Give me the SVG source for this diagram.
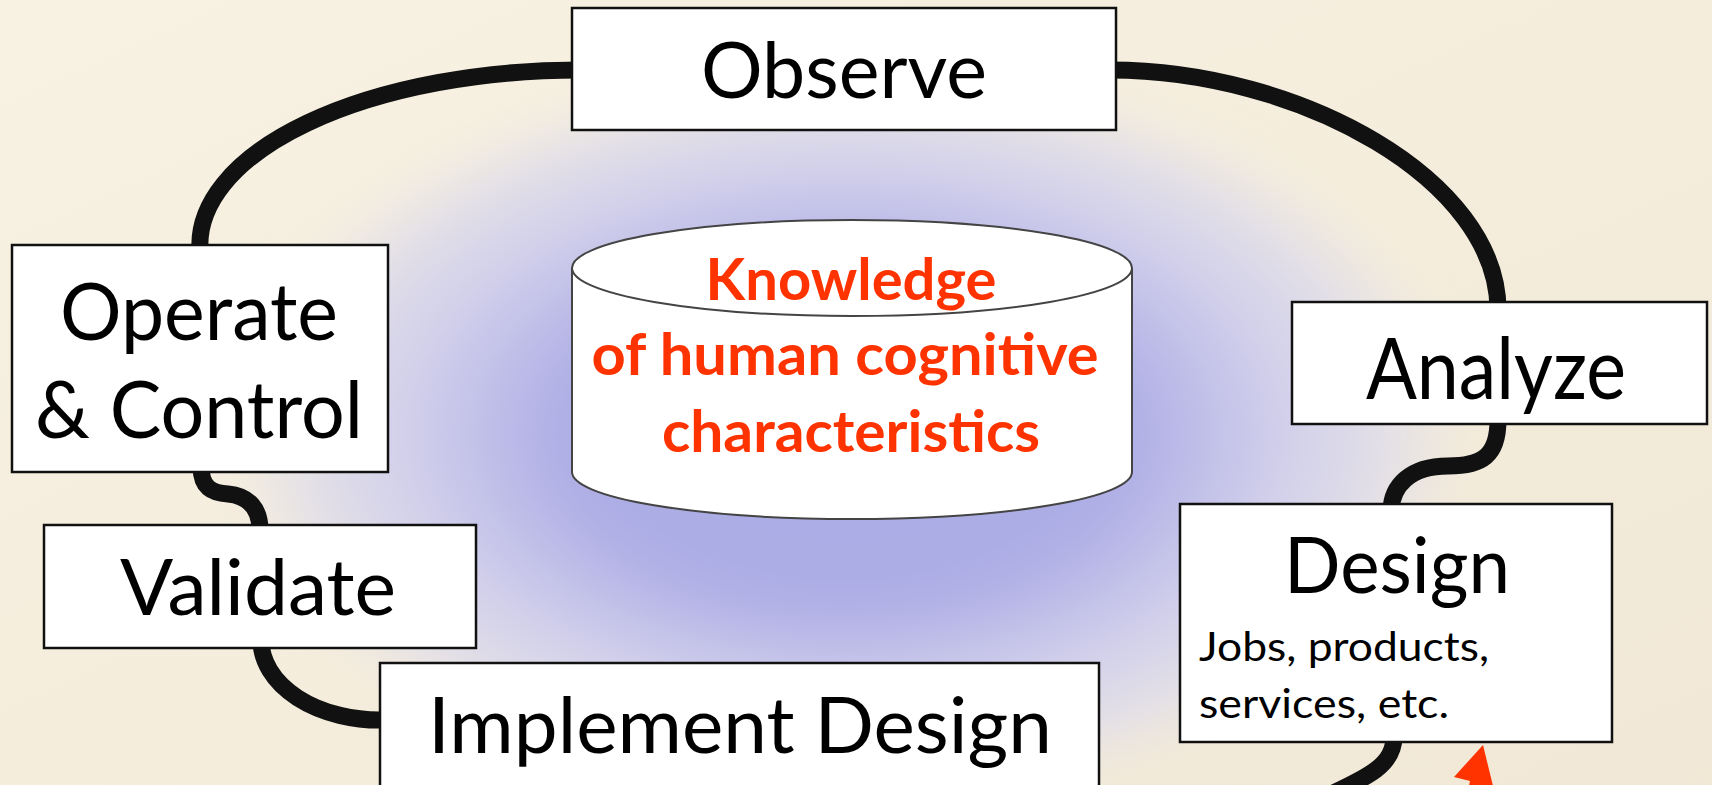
<svg xmlns="http://www.w3.org/2000/svg" width="1712" height="785" viewBox="0 0 1712 785">
  <defs>
    <linearGradient id="paper" x1="0" y1="0" x2="1" y2="1">
      <stop offset="0" stop-color="#F8F2E3"/>
      <stop offset="1" stop-color="#F1E8D6"/>
    </linearGradient>
    <radialGradient id="glow" cx="0.5" cy="0.5" r="0.5">
      <stop offset="0" stop-color="#A9A9E6"/>
      <stop offset="0.45" stop-color="#AEAEE6"/>
      <stop offset="0.68" stop-color="#CFCDEA"/>
      <stop offset="0.85" stop-color="#E1DEE8"/>
      <stop offset="1" stop-color="#E6E2E6" stop-opacity="0"/>
    </radialGradient>
    <filter id="soft" x="-20%" y="-20%" width="140%" height="140%">
      <feGaussianBlur stdDeviation="18"/>
    </filter>
  </defs>
  <style>
    .box { fill: #FFFFFF; stroke: #111111; stroke-width: 2.5; }
    .link { fill: none; stroke: #111111; stroke-width: 17; }
    .label { font-family: Lato, "Liberation Sans", sans-serif; font-size: 78px; fill: #000000; text-anchor: middle; }
    .big { font-size: 86px; }
    .mid { font-size: 80px; }
    .note { font-family: Lato, "Liberation Sans", sans-serif; font-size: 41px; fill: #000000; }
    .store { fill: #FFFFFF; stroke: #444444; stroke-width: 2; }
    .hot { font-family: Lato, "Liberation Sans", sans-serif; font-weight: bold; font-size: 57px; fill: #FF3300; text-anchor: middle; }
  </style>

  <!-- paper background and lavender halo behind the knowledge store -->
  <rect x="0" y="0" width="1712" height="785" fill="url(#paper)"/>
  <ellipse cx="845" cy="435" rx="625" ry="375" fill="url(#glow)" filter="url(#soft)"/>

  <!-- cycle connectors -->
  <g id="connectors">
    <path class="link" d="M580,70 A380,175 0 0 0 200,250"/>
    <path class="link" d="M1110,70 C1300,70 1498,180 1498,310"/>
    <path class="link" d="M1498,420 C1498,456 1482,466 1448,466 C1410,466 1391,486 1391,512"/>
    <path class="link" d="M1394,736 C1394,764 1372,776 1318,800"/>
    <path class="link" d="M201,466 C201,488 212,493 228,494 C250,496 260,510 260,530"/>
    <path class="link" d="M261,640 A119,80 0 0 0 385,720"/>
  </g>

  <!-- red pointer entering at the bottom edge -->
  <polygon id="pointer" points="1483,745 1494,790 1468,790 1470,781 1454,777" fill="#FF3300"/>

  <!-- knowledge store (cylinder) -->
  <g id="knowledge">
    <path class="store" d="M572,268 L572,472 A280,47 0 0 0 1132,472 L1132,268"/>
    <ellipse class="store" cx="852" cy="268" rx="280" ry="48"/>
    <text class="hot" x="851" y="300" textLength="291" lengthAdjust="spacingAndGlyphs">Knowledge</text>
    <text class="hot" x="845" y="375" textLength="507" lengthAdjust="spacingAndGlyphs">of human cognitive</text>
    <text class="hot" x="851" y="452" textLength="378" lengthAdjust="spacingAndGlyphs">characteristics</text>
  </g>

  <g id="observe">
    <rect class="box" x="572" y="8" width="544" height="122"/>
    <text class="label" x="844" y="98" textLength="286" lengthAdjust="spacingAndGlyphs">Observe</text>
  </g>

  <g id="analyze">
    <rect class="box" x="1292" y="302" width="415" height="122"/>
    <text class="label big" x="1496" y="399" textLength="260" lengthAdjust="spacingAndGlyphs">Analyze</text>
  </g>

  <g id="design">
    <rect class="box" x="1180" y="504" width="432" height="238"/>
    <text class="label" x="1397" y="593" textLength="226" lengthAdjust="spacingAndGlyphs">Design</text>
    <text class="note" x="1199" y="661" textLength="290" lengthAdjust="spacingAndGlyphs">Jobs, products,</text>
    <text class="note" x="1199" y="718" textLength="250" lengthAdjust="spacingAndGlyphs">services, etc.</text>
  </g>

  <g id="implement">
    <rect class="box" x="380" y="663" width="719" height="140"/>
    <text class="label" x="740" y="753" textLength="624" lengthAdjust="spacingAndGlyphs">Implement Design</text>
  </g>

  <g id="validate">
    <rect class="box" x="44" y="525" width="432" height="123"/>
    <text class="label" x="258" y="615" textLength="276" lengthAdjust="spacingAndGlyphs">Validate</text>
  </g>

  <g id="operate">
    <rect class="box" x="12" y="245" width="376" height="227"/>
    <text class="label mid" x="199" y="340" textLength="278" lengthAdjust="spacingAndGlyphs">Operate</text>
    <text class="label mid" x="199" y="438" textLength="328" lengthAdjust="spacingAndGlyphs">&amp; Control</text>
  </g>
</svg>
